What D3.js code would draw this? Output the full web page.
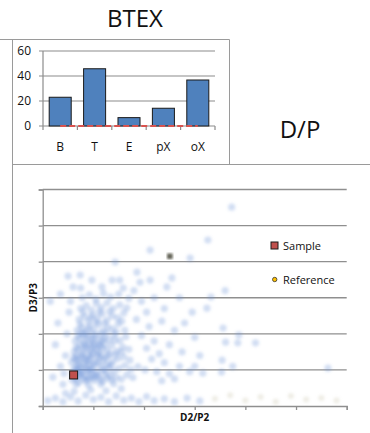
<!DOCTYPE html>
<html>
<head>
<meta charset="utf-8">
<script src="https://cdn.jsdelivr.net/npm/d3@7"></script>
<style>
  body { margin: 0; background: #fff; }
  svg { display: block; font-family: 'Open Sans', sans-serif; }
</style>
</head>
<body>
<svg id="chart" width="370" height="433"></svg>
<script>
// BTEX bar chart
var btexCategories = ['B', 'T', 'E', 'pX', 'oX'];
var btexValues = [23, 45.8, 6.7, 14.2, 36.8];
var btexBaseline = [0, 0, 0, 0, 0];
var btexTicks = [0, 20, 40, 60];

// D/P scatter (D2/P2 vs D3/P3)
var dpTicks = [0, 1, 2, 3, 4, 5, 6];
var samplePoint = [[0.61, 0.86]];
var referencePoint = [[2.51, 4.15]];
var cloudPoints = [
  [0.58,0.72],[0.66,0.81],[0.71,0.65],[0.79,0.74],[0.86,0.69],[0.93,0.78],[1.02,0.71],[1.1,0.83],[1.18,0.68],[1.27,0.77],
  [1.36,0.72],[1.45,0.8],[1.55,0.74],[1.66,0.86],[1.78,0.79],[0.6,0.95],[0.69,1.02],[0.77,0.93],[0.84,1.08],[0.91,0.97],
  [0.99,1.05],[1.07,0.94],[1.15,1.1],[1.23,0.99],[1.31,1.07],[1.4,0.96],[1.5,1.04],[1.62,1.12],[1.74,1.01],[1.88,1.09],
  [2.02,1.0],[0.57,1.21],[0.65,1.3],[0.73,1.18],[0.8,1.34],[0.88,1.24],[0.96,1.37],[1.04,1.22],[1.12,1.33],[1.2,1.26],
  [1.29,1.39],[1.38,1.23],[1.48,1.31],[1.6,1.36],[1.72,1.27],[0.62,1.5],[0.7,1.58],[0.78,1.46],[0.86,1.62],[0.94,1.53],
  [1.02,1.66],[1.1,1.49],[1.18,1.6],[1.27,1.55],[1.36,1.68],[1.46,1.52],[1.58,1.63],[1.7,1.57],[0.64,1.8],[0.73,1.88],
  [0.81,1.75],[0.89,1.93],[0.97,1.82],[1.05,1.96],[1.13,1.79],[1.22,1.9],[1.31,1.84],[1.41,1.97],[1.52,1.81],[1.64,1.92],
  [0.68,2.1],[0.77,2.18],[0.85,2.05],[0.93,2.22],[1.01,2.12],[1.1,2.26],[1.19,2.08],[1.28,2.19],[1.38,2.14],[1.49,2.27],
  [1.62,2.1],[0.72,2.4],[0.82,2.48],[0.9,2.35],[0.99,2.52],[1.08,2.42],[1.17,2.55],[1.27,2.38],[1.37,2.5],[1.48,2.44],
  [1.6,2.58],[0.75,2.7],[0.86,2.78],[0.96,2.66],[1.06,2.84],[1.16,2.73],[1.27,2.86],[1.39,2.7],[1.52,2.8],[1.66,2.72],
  [0.78,3.0],[0.92,3.08],[1.05,2.96],[1.2,3.12],[1.34,3.02],[1.5,3.1],[1.7,2.98],
  [0.62,0.86],[0.75,0.88],[0.83,0.84],[0.97,0.88],[1.05,0.86],[0.68,1.12],[0.82,1.16],[0.92,1.14],[1.0,1.15],[1.09,1.2],
  [0.67,1.4],[0.76,1.38],[0.9,1.42],[0.99,1.45],[1.08,1.4],[0.74,1.7],[0.84,1.68],[0.92,1.72],[1.0,1.74],[1.1,1.7],
  [0.8,1.98],[0.97,2.0],[1.14,2.0],[0.66,0.6],[0.9,0.58],[1.15,0.6],[1.4,0.62],
  [0.64,0.77],[0.73,0.84],[0.88,0.76],[1.0,0.79],[1.13,0.75],[1.24,0.88],[1.33,0.84],[0.63,1.06],[0.76,1.04],[0.87,0.99],
  [0.95,1.0],[1.18,1.0],[1.27,1.15],[1.35,1.14],[0.61,1.33],[0.7,1.25],[0.85,1.3],[0.93,1.29],[1.16,1.42],[1.24,1.33],
  [1.33,1.45],[0.66,1.62],[0.81,1.55],[0.97,1.6],[1.06,1.56],[1.14,1.66],[1.23,1.72],[0.69,1.95],[0.77,2.03],[0.86,1.86],
  [1.02,1.88],[1.18,1.83],[1.26,2.03],[0.74,2.27],[0.89,2.14],[1.05,2.32],[1.22,2.3],[0.8,2.6],[0.95,2.45],[1.12,2.62],
  [1.32,2.62],[0.7,0.97],[1.44,1.42],[1.55,1.5],[1.42,1.82],[1.45,2.05],[1.56,2.35],
  [0.42,0.9],[0.45,1.4],[0.48,2.0],[0.52,2.6],[0.4,0.6],[0.35,1.1],[0.55,2.9],[0.6,3.3],[0.75,3.27],[0.74,3.63],
  [0.97,3.49],[1.17,3.3],[1.37,3.49],[1.52,3.49],[1.59,3.27],[1.86,3.71],[1.92,3.43],[2.12,3.49],[2.55,3.55],[1.43,3.99],
  [2.12,4.32],[2.91,4.1],[3.26,4.6],[3.73,5.51],[1.8,3.2],[1.95,2.9],[2.05,2.6],[1.85,2.4],[2.1,2.2],[1.95,1.95],
  [2.2,1.8],[2.05,1.6],[2.3,1.45],[2.15,1.3],[2.4,1.2],[2.25,0.95],[2.5,0.9],[2.35,0.7],[2.6,0.75],[2.2,3.0],
  [2.4,2.7],[2.35,2.35],[2.6,2.1],[2.5,1.7],[2.75,1.5],[2.7,1.1],[2.9,0.95],[2.45,3.3],[2.7,3.0],[2.95,2.6],
  [2.8,2.3],[3.0,1.9],[3.1,1.4],[3.0,1.1],[3.16,0.91],[3.32,3.02],[3.24,2.71],[3.6,3.2],[3.56,2.16],[3.87,1.97],
  [3.85,1.75],[4.2,1.75],[3.61,1.77],[3.54,1.27],[3.53,0.94],[3.75,1.1],[5.63,1.05],[0.3,2.3],[0.25,1.7],[0.2,0.8],
  [0.15,2.9],[0.35,3.1],[0.5,3.6],
  [0.1,0.15],[0.25,0.22],[0.4,0.12],[0.55,0.25],[0.7,0.14],[0.85,0.3],[1.0,0.18],[1.15,0.24],[1.3,0.12],[1.45,0.28],
  [1.6,0.16],[1.75,0.22],[1.9,0.12],[2.05,0.26],[2.2,0.15],[2.4,0.2],[2.6,0.12],[2.85,0.22],[3.1,0.14],[0.62,0.4],
  [0.95,0.45],[1.25,0.42],[1.55,0.48],[0.45,0.35]
];
var faintPoints = [[3.4,0.2],[3.7,0.3],[4.0,0.15],[4.3,0.25],[4.6,0.12],[4.9,0.28],[5.2,0.18],[5.5,0.22],[5.8,0.15]];

var svg = d3.select('#chart');
var frame = '#9a9a9a';

var defs = svg.append('defs');
defs.append('filter')
  .attr('id', 'soft')
  .attr('x', '-50%').attr('y', '-50%').attr('width', '200%').attr('height', '200%')
  .append('feGaussianBlur')
  .attr('stdDeviation', 1.8);
defs.append('filter')
  .attr('id', 'softer')
  .append('feGaussianBlur')
  .attr('stdDeviation', 0.8);

// panel frames
svg.append('path')
  .attr('d', 'M0,39.5H229.5V164.5M12.5,39.5V433M12.5,164.5H370')
  .attr('fill', 'none')
  .attr('stroke', frame);

// titles
svg.append('text').attr('x', 135).attr('y', 27).attr('text-anchor', 'middle')
  .style('font-size', '24px').attr('fill', '#111').text('BTEX');
svg.append('text').attr('x', 300).attr('y', 138).attr('text-anchor', 'middle')
  .style('font-size', '24px').attr('fill', '#111').text('D/P');

// ---- bar chart ----
var bx = d3.scaleBand().domain(btexCategories).range([43, 215]).paddingInner(0.36).paddingOuter(0.18);
var by = d3.scaleLinear().domain([0, 60]).range([126, 51]);
var bar = svg.append('g');

bar.append('g')
  .selectAll('line')
  .data(btexTicks)
  .enter()
  .append('line')
  .attr('x1', 39).attr('x2', 215)
  .attr('y1', function (d) { return by(d); })
  .attr('y2', function (d) { return by(d); })
  .attr('stroke', '#8c8c8c').attr('stroke-width', 1.2);

bar.append('line')
  .attr('x1', 43).attr('x2', 43).attr('y1', by(60)).attr('y2', by(0))
  .attr('stroke', '#8c8c8c').attr('stroke-width', 1.2);

bar.append('g')
  .selectAll('line')
  .data(d3.range(btexCategories.length + 1))
  .enter()
  .append('line')
  .attr('x1', function (i) { return 43 + i * bx.step(); })
  .attr('x2', function (i) { return 43 + i * bx.step(); })
  .attr('y1', by(0)).attr('y2', by(0) + 4)
  .attr('stroke', '#8c8c8c').attr('stroke-width', 1.2);

bar.selectAll('text.ytick')
  .data(btexTicks)
  .enter()
  .append('text')
  .attr('class', 'ytick')
  .attr('x', 31)
  .attr('y', function (d) { return by(d) + 4; })
  .attr('text-anchor', 'end')
  .style('font-size', '12px')
  .attr('fill', '#111')
  .text(function (d) { return d; });

bar.selectAll('rect')
  .data(btexValues)
  .enter()
  .append('rect')
  .attr('x', function (d, i) { return bx(btexCategories[i]); })
  .attr('y', function (d) { return by(d); })
  .attr('width', bx.bandwidth())
  .attr('height', function (d) { return by(0) - by(d); })
  .attr('fill', '#4f81bd')
  .attr('stroke', '#1a1a1a')
  .attr('stroke-width', 1);

bar.append('path')
  .datum(btexBaseline)
  .attr('d', d3.line()
    .x(function (d, i) { return bx(btexCategories[i]) + bx.bandwidth() / 2; })
    .y(function (d) { return by(d); }))
  .attr('fill', 'none')
  .attr('stroke', '#d9534f')
  .attr('stroke-width', 2)
  .attr('stroke-dasharray', '6,3');

bar.selectAll('text.cat')
  .data(btexCategories)
  .enter()
  .append('text')
  .attr('class', 'cat')
  .attr('x', function (d) { return bx(d) + bx.bandwidth() / 2; })
  .attr('y', 151)
  .attr('text-anchor', 'middle')
  .style('font-size', '12px')
  .attr('fill', '#111')
  .text(function (d) { return d; });

// ---- scatter ----
var sx = d3.scaleLinear().domain([0, 6]).range([42.7, 346.7]);
var sy = d3.scaleLinear().domain([0, 6]).range([406, 189.5]);
var sc = svg.append('g');

sc.append('g')
  .selectAll('line')
  .data(dpTicks.slice(1))
  .enter()
  .append('line')
  .attr('x1', sx(0)).attr('x2', sx(6))
  .attr('y1', function (d) { return sy(d); })
  .attr('y2', function (d) { return sy(d); })
  .attr('stroke', '#8f8f8f').attr('stroke-width', 1.3);

var pts = sc.append('g').attr('filter', 'url(#soft)');
pts.selectAll('circle.cloud')
  .data(cloudPoints)
  .enter()
  .append('circle')
  .attr('class', 'cloud')
  .attr('cx', function (d) { return sx(d[0]); })
  .attr('cy', function (d) { return sy(d[1]); })
  .attr('r', 3.6)
  .attr('fill', '#6a93d6')
  .attr('fill-opacity', 0.3);
pts.selectAll('circle.faint')
  .data(faintPoints)
  .enter()
  .append('circle')
  .attr('class', 'faint')
  .attr('cx', function (d) { return sx(d[0]); })
  .attr('cy', function (d) { return sy(d[1]); })
  .attr('r', 3)
  .attr('fill', '#c9c2a8')
  .attr('fill-opacity', 0.3);

sc.selectAll('rect.ref')
  .data(referencePoint)
  .enter()
  .append('rect')
  .attr('class', 'ref')
  .attr('x', function (d) { return sx(d[0]) - 2.8; })
  .attr('y', function (d) { return sy(d[1]) - 2.8; })
  .attr('width', 5.6).attr('height', 5.6)
  .attr('fill', '#66665a')
  .attr('filter', 'url(#softer)');

// axes
sc.append('g')
  .attr('transform', 'translate(0,' + sy(0) + ')')
  .call(d3.axisBottom(sx).tickValues(dpTicks).tickSize(4).tickFormat(''))
  .call(function (g) { g.selectAll('path,line').attr('stroke', '#8f8f8f').attr('stroke-width', 1.3); });
sc.append('g')
  .attr('transform', 'translate(' + sx(0) + ',0)')
  .call(d3.axisLeft(sy).tickValues(dpTicks).tickSize(4).tickFormat(''))
  .call(function (g) { g.selectAll('path,line').attr('stroke', '#8f8f8f').attr('stroke-width', 1.3); });

sc.selectAll('rect.sample')
  .data(samplePoint)
  .enter()
  .append('rect')
  .attr('class', 'sample')
  .attr('x', function (d) { return sx(d[0]) - 4; })
  .attr('y', function (d) { return sy(d[1]) - 4; })
  .attr('width', 8).attr('height', 8)
  .attr('fill', '#c0504d')
  .attr('stroke', '#1a1a1a')
  .attr('stroke-width', 1);

// axis titles
sc.append('text')
  .attr('transform', 'translate(37,' + sy(3) + ') rotate(-90)')
  .attr('text-anchor', 'middle')
  .style('font-size', '10px').style('font-weight', 'bold')
  .attr('fill', '#111')
  .text('D3/P3');
sc.append('text')
  .attr('x', (sx(0) + sx(6)) / 2).attr('y', 421)
  .attr('text-anchor', 'middle')
  .style('font-size', '10px').style('font-weight', 'bold')
  .attr('fill', '#111')
  .text('D2/P2');

// legend
var legend = sc.append('g');
legend.append('rect')
  .attr('x', 271).attr('y', 242).attr('width', 7).attr('height', 7)
  .attr('fill', '#c0504d').attr('stroke', '#1a1a1a');
legend.append('text').attr('x', 283).attr('y', 250)
  .style('font-size', '11px').attr('fill', '#111').text('Sample');
legend.append('circle')
  .attr('cx', 274.7).attr('cy', 279.5).attr('r', 2.2)
  .attr('fill', '#ffc000').attr('stroke', '#333').attr('stroke-width', 0.8);
legend.append('text').attr('x', 283).attr('y', 284)
  .style('font-size', '11px').attr('fill', '#111').text('Reference');
</script>
</body>
</html>
